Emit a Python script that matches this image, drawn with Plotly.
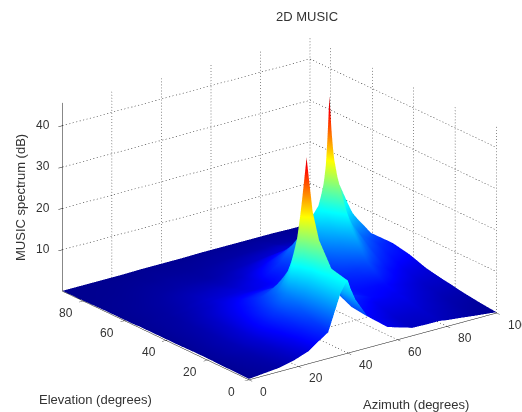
import plotly.graph_objects as go

azimuth = [0, 12, 18, 24, 28, 32, 37, 39, 40, 41, 43, 48, 56, 66, 72, 74, 75, 76, 77, 78, 80, 85, 92, 100]
elevation = [0, 8, 14, 18, 20, 22, 26, 34, 42, 48, 50, 51, 52, 53, 54, 56, 62, 70, 80, 90]
spectrum = [
    [.2, .9, 1.7, 3, 4.7, 6.3, 15, 17, 17.5, 15.5, 12.5, 7.5, 3.7, 1.9, 1.8, 1.8, 1.8, 1.8, 1.8, 1.7, 1.5, 1.2, .7, .2],
    [.3, 1.1, 2, 3.6, 5.3, 7.5, 16, 18, 18.5, 17, 13, 8, 4, 2.5, 2.4, 2.4, 2.4, 2.4, 2.4, 2.2, 2, 1.6, 1, .6],
    [.3, 1.3, 2.4, 4.3, 6.2, 9, 17, 21, 24, 21, 15, 9.5, 5, 3.2, 3.1, 3, 3, 3, 3, 2.8, 2.6, 2, 1.3, 1],
    [.4, 1.5, 2.7, 4.8, 7, 10.5, 20, 27, 32, 27, 19, 11.5, 6, 3.8, 3.6, 3.5, 3.5, 3.5, 3.5, 3.3, 3, 2.4, 1.6, 1.3],
    [.4, 1.5, 2.8, 5, 7.3, 11, 26, 37, 42.5, 37, 26, 13, 7, 4.5, 4, 3.8, 3.7, 3.6, 3.6, 3.4, 3.2, 2.6, 1.8, 1.5],
    [.4, 1.5, 2.8, 5, 7.2, 10.5, 20, 26, 30, 26, 19, 11.5, 6.5, 4.6, 4.2, 4.1, 4, 4, 4, 3.8, 3.5, 2.8, 1.9, 1.7],
    [.4, 1.5, 2.7, 4.8, 6.6, 9, 13, 15, 16, 15, 13, 9, 6, 4.8, 4.7, 4.6, 4.6, 4.6, 4.6, 4.3, 4, 3.2, 2.3, 2],
    [.3, 1.3, 2.3, 3.9, 5, 6.5, 7.5, 7.8, 8, 7.8, 7.4, 6.4, 5.5, 6, 7, 7.7, 8, 8.5, 8, 7.5, 6.5, 4.8, 3.4, 2.8],
    [.3, 1.1, 1.9, 3, 3.7, 4.4, 4.8, 4.9, 5, 5, 5, 5.2, 6, 8.5, 11.5, 13, 14, 15, 14, 13, 11, 7.5, 5.2, 4.2],
    [.3, .9, 1.5, 2.2, 2.9, 3.2, 3.4, 3.4, 3.4, 3.4, 3.5, 4, 6.5, 11, 15.5, 19, 21, 25, 21.5, 19, 15, 10, 6.8, 4.8],
    [.3, .85, 1.4, 2.1, 2.7, 2.9, 3.1, 3.2, 3.2, 3.2, 3.3, 3.9, 6.8, 12.5, 17.5, 21.5, 25, 30, 26, 22, 18.5, 13, 8, 5],
    [.3, .8, 1.3, 2, 2.5, 2.7, 2.9, 3, 3, 3, 3.2, 3.8, 7, 13, 18, 23, 27, 36, 27, 24, 20, 14, 8.5, 5],
    [.3, .8, 1.3, 1.9, 2.4, 2.6, 2.8, 2.9, 2.9, 2.9, 3.1, 3.8, 7, 13.5, 18.5, 24, 30, 44, 31, 27, 22, 14.5, 8.2, 5],
    [.3, .8, 1.3, 1.9, 2.4, 2.5, 2.7, 2.8, 2.8, 2.8, 3, 3.6, 6.5, 12.5, 17, 21, 24, 31, 25, 22.5, 18.5, 13, 8, 5],
    [.25, .75, 1.2, 1.8, 2.2, 2.4, 2.6, 2.7, 2.7, 2.7, 2.9, 3.5, 6.2, 11.3, 15, 18, 20, 23, 20.5, 18.5, 16, 11.8, 7.5, 4.8],
    [.2, .7, 1.1, 1.6, 2, 2.2, 2.4, 2.4, 2.4, 2.4, 2.6, 3.2, 5.5, 9.5, 12, 14, 15, 16, 15, 14.2, 13, 9.5, 6.5, 4.3],
    [.2, .6, .9, 1.3, 1.5, 1.6, 1.7, 1.7, 1.7, 1.7, 1.8, 2.2, 3.5, 5.5, 6.5, 6.8, 7, 7, 7, 6.6, 6, 4.8, 3.6, 3],
    [.2, .4, .6, .8, .9, 1, 1, 1, 1, 1, 1, 1.3, 1.8, 2.5, 2.8, 2.9, 2.9, 3, 2.9, 2.8, 2.7, 2.3, 2, 1.8],
    [.1, .2, .3, .4, .4, .5, .5, .5, .5, .5, .5, .6, .8, 1, 1.1, 1.2, 1.2, 1.2, 1.2, 1.1, 1.1, 1, .9, .8],
    [.1, .1, .1, .1, .15, .2, .2, .2, .2, .2, .2, .2, .3, .3, .3, .3, .3, .3, .3, .3, .3, .3, .2, .2],
]
az_ticks = [0, 20, 40, 60, 80, 100]
el_ticks = [0, 20, 40, 60, 80]
z_ticks = [10, 20, 30, 40]
AZ_MAX, EL_MAX, Z_MAX = 100, 90, 45.5

JET = [[0, "#00008f"], [.09, "#0000ff"], [.375, "#00ffff"], [.625, "#ffff00"], [.875, "#ff0000"], [1, "#800000"]]
TXT = "#333333"
FONT = "Liberation Sans"

fig = go.Figure()
fig.add_surface(x=azimuth, y=elevation, z=spectrum, colorscale=JET, cmin=0, cmax=46, showscale=False,
                lighting=dict(ambient=1, diffuse=0, specular=0, roughness=1, fresnel=0), hoverinfo="skip")

# dotted grid on the floor and the two back walls: short strokes along each grid line
gx, gy, gz = [], [], []
def dots(a, b, n):
    for i in range(n):
        t0 = i / n
        t1 = (i + 0.32) / n
        gx.extend([a[0] + (b[0] - a[0]) * t0, a[0] + (b[0] - a[0]) * t1, None])
        gy.extend([a[1] + (b[1] - a[1]) * t0, a[1] + (b[1] - a[1]) * t1, None])
        gz.extend([a[2] + (b[2] - a[2]) * t0, a[2] + (b[2] - a[2]) * t1, None])
for a in az_ticks[1:]:
    dots((a, 0, 0), (a, EL_MAX, 0), 62)
    dots((a, EL_MAX, 0), (a, EL_MAX, Z_MAX), 62)
for e in el_ticks:
    dots((0, e, 0), (AZ_MAX, e, 0), 72)
    dots((AZ_MAX, e, 0), (AZ_MAX, e, Z_MAX), 62)
for v in z_ticks:
    dots((0, EL_MAX, v), (AZ_MAX, EL_MAX, v), 72)
    dots((AZ_MAX, EL_MAX, v), (AZ_MAX, 0, v), 62)
fig.add_scatter3d(x=gx, y=gy, z=gz, mode="lines", line=dict(color="#111111", width=1),
                  hoverinfo="skip", showlegend=False)

def ax(vals, rng):
    return dict(range=rng, tickvals=vals, showticklabels=False, showgrid=False, zeroline=False, title="",
                showline=True, linecolor="#111111", linewidth=1, ticks="outside", ticklen=5,
                tickcolor="#111111", showbackground=False, showspikes=False)

tick_font = dict(family=FONT, size=12, color=TXT)
notes = []
for a in az_ticks:
    notes.append(dict(x=a, y=0, z=0, text=str(a), showarrow=False, xanchor="left", xshift=9, yshift=-12, font=tick_font))
for e in el_ticks:
    notes.append(dict(x=0, y=e, z=0, text=str(e), showarrow=False, xshift=-17, yshift=-12, font=tick_font))
for v in z_ticks:
    notes.append(dict(x=0, y=EL_MAX, z=v, text=str(v), showarrow=False, xshift=-19, yshift=1, font=tick_font))

S = 1.52
fig.update_layout(
    width=522, height=412, margin=dict(l=0, r=0, t=0, b=0), paper_bgcolor="white", showlegend=False,
    scene=dict(
        domain=dict(x=[0.07, 1], y=[0, 0.99]),
        xaxis=ax(az_ticks, [0, AZ_MAX]), yaxis=ax(el_ticks, [0, EL_MAX]), zaxis=ax(z_ticks, [0, Z_MAX]),
        aspectmode="manual", aspectratio=dict(x=1*S, y=1*S, z=0.65*S),
        camera=dict(projection=dict(type="orthographic"), eye=dict(x=-0.562*1.6, y=-0.746*1.6, z=0.358*1.6),
                    center=dict(x=0, y=0, z=0), up=dict(x=0, y=0, z=1)),
        annotations=notes,
    ),
    annotations=[
        dict(x=307, y=17, text="2D MUSIC"),
        dict(x=95, y=399, text="Elevation (degrees)"),
        dict(x=416, y=404, text="Azimuth (degrees)"),
        dict(x=20, y=198, text="MUSIC spectrum (dB)", textangle=-90),
    ],
    font=dict(family=FONT, size=13, color=TXT),
)
for n in fig.layout.annotations:
    n.x = n.x / 522
    n.y = 1 - n.y / 412
    n.xref = "paper"
    n.yref = "paper"
    n.xanchor = "center"
    n.yanchor = "middle"
    n.showarrow = False
fig.write_html("out.html", config=dict(displayModeBar=False), post_script="document.body.style.margin='0';")
